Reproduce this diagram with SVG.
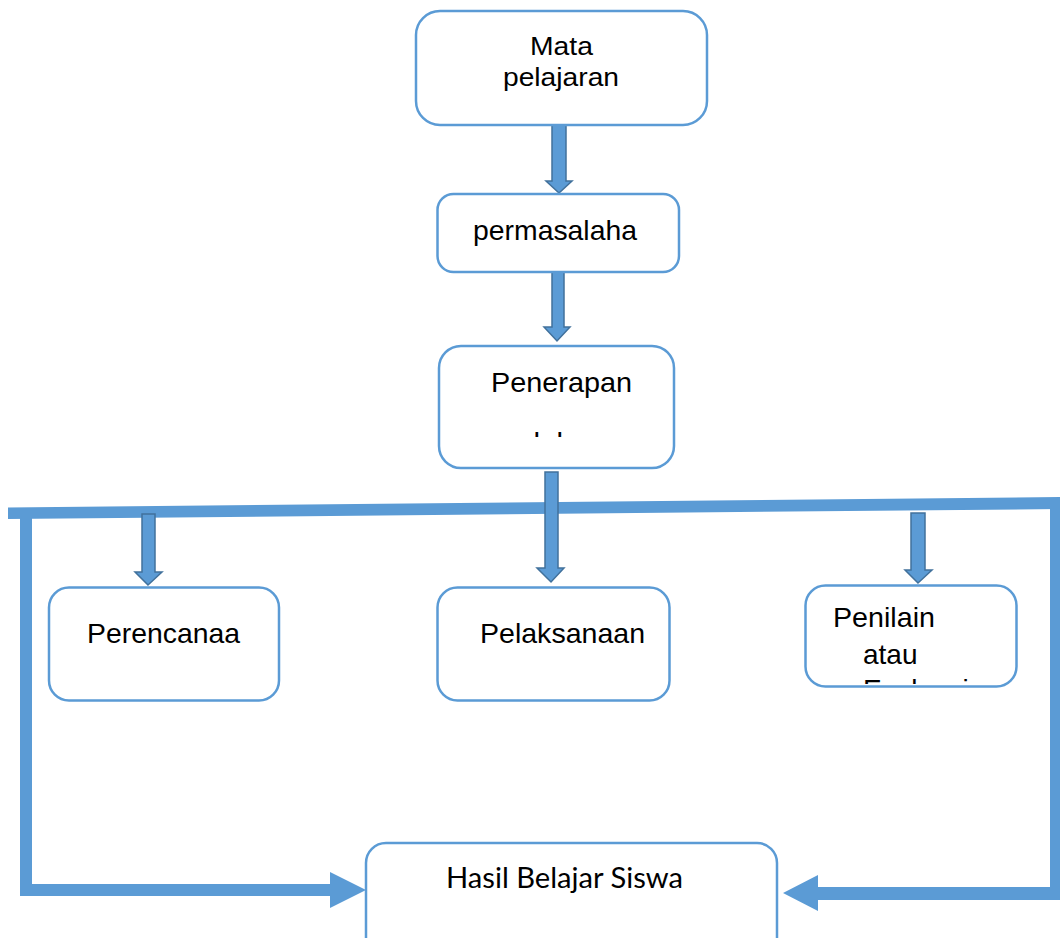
<svg xmlns="http://www.w3.org/2000/svg" width="1060" height="938" viewBox="0 0 1060 938">
<style>
.box{fill:#fff;stroke:#5B9BD5;stroke-width:2.5}
.t{font-family:"Liberation Sans",Arial,sans-serif;font-size:28px;fill:#000}
.blk{fill:#5B9BD5;stroke:#41719C;stroke-width:1.5;stroke-linejoin:miter}
.bar{fill:#5B9BD5}
</style>
<defs>
<clipPath id="c3"><rect x="440" y="346" width="234" height="91"/></clipPath>
<clipPath id="c6"><rect x="806" y="586" width="210" height="98"/></clipPath>
</defs>
<rect width="1060" height="938" fill="#fff"/>
<g id="connectors">
<polygon class="bar" points="8,507.5 1062,497 1062,509 8,519"/>
<polygon class="bar" points="20,516 32,516 32,884 330,884 330,872 366,890 330,908 330,896 20,896"/>
<polygon class="bar" points="1050,506 1062,506 1062,900 818,900 818,911 783,893 818,875 818,887 1050,887"/>
<path class="blk" d="M552,125 H566 V181 H572 L559,193 L546,181 H552 Z"/>
<path class="blk" d="M552,272 H564 V327 H570 L557,341 L544,327 H552 Z"/>
<path class="blk" d="M545,472 H558 V568 H564 L551,582 L537,568 H545 Z"/>
<path class="blk" d="M142,514 H155 V572 H162 L148,585 L135,572 H142 Z"/>
<path class="blk" d="M911,513 H925 V570 H932 L918,583 L905,570 H911 Z"/>
</g>
<g id="n1">
<rect class="box" x="416" y="11" width="291" height="114" rx="24"/>
<text class="t" style="font-size:25px" x="530" y="55" textLength="63" lengthAdjust="spacingAndGlyphs">Mata</text>
<text class="t" style="font-size:25px" x="503" y="86" textLength="116" lengthAdjust="spacingAndGlyphs">pelajaran</text>
</g>
<g id="n2">
<rect class="box" x="437.5" y="194" width="241.5" height="78" rx="16"/>
<text class="t" x="473" y="240" textLength="164" lengthAdjust="spacingAndGlyphs">permasalaha</text>
</g>
<g id="n3">
<rect class="box" x="439" y="346" width="235" height="122" rx="22"/>
<text class="t" x="491" y="392" textLength="141" lengthAdjust="spacingAndGlyphs">Penerapan</text>
<text class="t" x="483" y="452" textLength="80" lengthAdjust="spacingAndGlyphs" clip-path="url(#c3)">model</text>
</g>
<g id="n4">
<rect class="box" x="49" y="587.5" width="230" height="113" rx="20"/>
<text class="t" x="87" y="643" textLength="153" lengthAdjust="spacingAndGlyphs">Perencanaa</text>
</g>
<g id="n5">
<rect class="box" x="437.5" y="587.5" width="232" height="113" rx="20"/>
<text class="t" x="480" y="643" textLength="165" lengthAdjust="spacingAndGlyphs">Pelaksanaan</text>
</g>
<g id="n6">
<rect class="box" x="805.5" y="585.5" width="211" height="101" rx="20"/>
<text class="t" x="833" y="627" textLength="102" lengthAdjust="spacingAndGlyphs">Penilain</text>
<text class="t" x="863" y="664">atau</text>
<text class="t" x="863" y="699" clip-path="url(#c6)">Evaluasi</text>
</g>
<g id="n7">
<rect class="box" x="366" y="843" width="411" height="130" rx="20"/>
<text x="446" y="888" style="font-family:Lato,'Open Sans',sans-serif;font-size:29px;fill:#000" textLength="237" lengthAdjust="spacingAndGlyphs">Hasil Belajar Siswa</text>
</g>
</svg>
